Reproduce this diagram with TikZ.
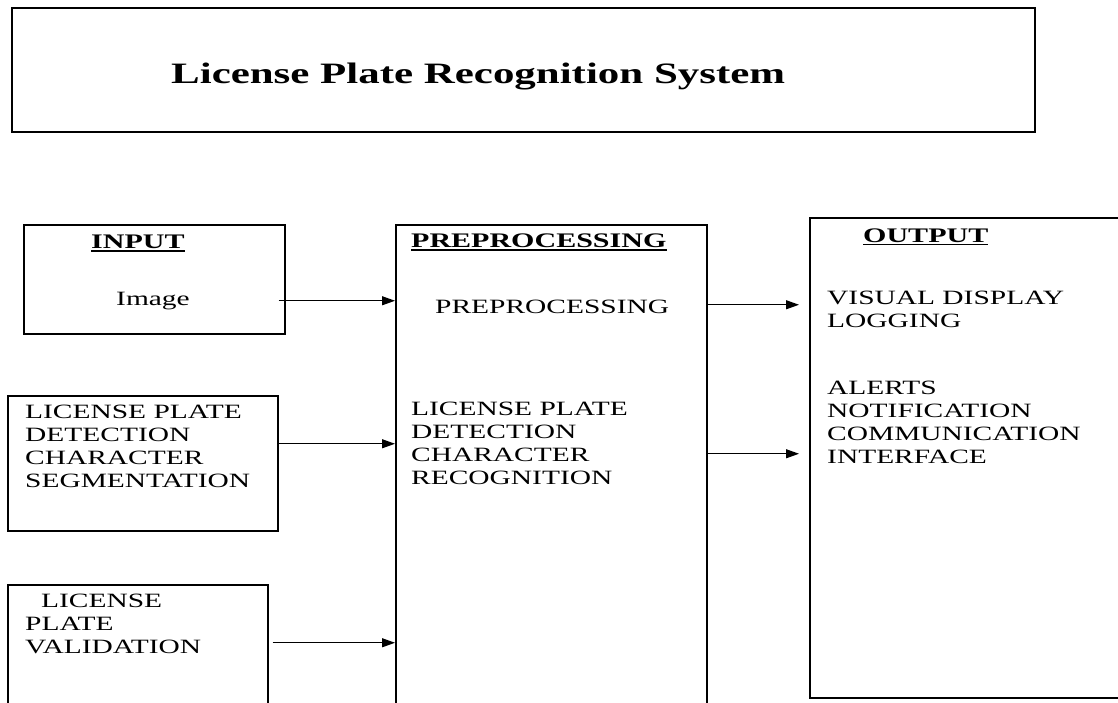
\documentclass[tikz,border=0pt]{standalone}
\usepackage{fontspec}
\setmainfont{Liberation Serif}
\usetikzlibrary{arrows.meta,calc}
\newcommand\sx[1]{\scalebox{1.45}[1]{#1}}
\newcommand\lines[1]{\sx{\begin{tabular}[t]{@{}l@{}}#1\end{tabular}}}
\begin{document}
\begin{tikzpicture}[x=1pt,y=-1pt,
 box/.style={draw=black,line width=1.5pt,rectangle,inner sep=0pt,anchor=north west},
 txt/.style={inner sep=0pt,anchor=base west,font=\fontsize{20.3}{23.3}\selectfont},
 head/.style={inner sep=0pt,anchor=base west,font=\fontsize{20.7}{24}\selectfont\bfseries},
 arr/.style={line width=1.1pt,-{Triangle[length=13pt,width=9pt]}},
 ul/.style={line width=1.7pt}]
\useasboundingbox (0,0) rectangle (1118,702);
\clip (0,0) rectangle (1118,702);
% title
\node[box,line width=2.2pt,minimum width=1023pt,minimum height=124pt] (title) at (11,7) {};
\node[inner sep=0pt,anchor=base west,font=\fontsize{29.6}{34}\selectfont\bfseries] (ttl) at (171,83) {\sx{License Plate Recognition System}};
% input
\node[box,minimum width=261pt,minimum height=109pt] (input) at (23,224) {};
\node[head] (inhead) at (91,248) {\sx{INPUT}};
\draw[ul] ($(inhead.base west)+(0,3)$) -- ($(inhead.base east)+(0,3)$);
\node[txt] (img) at (116,305) {\sx{Image}};
% middle
\node[box,minimum width=311pt,minimum height=520pt] (mid) at (395,224) {};
\node[head] (midhead) at (411,247) {\sx{PREPROCESSING}};
\draw[ul] ($(midhead.base west)+(0,3)$) -- ($(midhead.base east)+(0,3)$);
\node[txt] (pre) at (435,313) {\sx{PREPROCESSING}};
\node[txt] (midlist) at (411,415) {\lines{LICENSE PLATE\\DETECTION\\CHARACTER\\RECOGNITION}};
% output
\node[box,minimum width=316pt,minimum height=480pt] (out) at (809,217) {};
\node[head] (outhead) at (863,242) {\sx{OUTPUT}};
\draw[ul] ($(outhead.base west)+(0,2.5)$) -- ($(outhead.base east)+(0,2.5)$);
\node[txt] (vis) at (827,304) {\lines{VISUAL DISPLAY\\LOGGING}};
\node[txt] (alerts) at (827,394) {\lines{ALERTS\\NOTIFICATION\\COMMUNICATION\\INTERFACE}};
% detection
\node[box,minimum width=270pt,minimum height=135pt] (det) at (7,395) {};
\node[txt] (detlist) at (25,418) {\lines{LICENSE PLATE\\DETECTION\\CHARACTER\\SEGMENTATION}};
% validation
\node[box,minimum width=260pt,minimum height=140pt] (val) at (7,584) {};
\node[txt] (vallist) at (25,607) {\lines{\hspace*{11pt}LICENSE\\PLATE\\VALIDATION}};
% arrows
\coordinate (s1) at ($(input.east)+(-7,21.5)$);
\draw[arr] (s1) -- (s1 -| mid.west);
\coordinate (s2) at ($(det.east)+(0,-19.5)$);
\draw[arr] (s2) -- (s2 -| mid.west);
\coordinate (s3) at ($(val.east)+(4,-12)$);
\draw[arr] (s3) -- (s3 -| mid.west);
\coordinate (s4) at ($(mid.east)+(0,-180)$);
\draw[arr,shorten >=10pt] (s4) -- (s4 -| out.west);
\coordinate (s5) at ($(mid.east)+(0,-31)$);
\draw[arr,shorten >=10pt] (s5) -- (s5 -| out.west);
\end{tikzpicture}
\end{document}
